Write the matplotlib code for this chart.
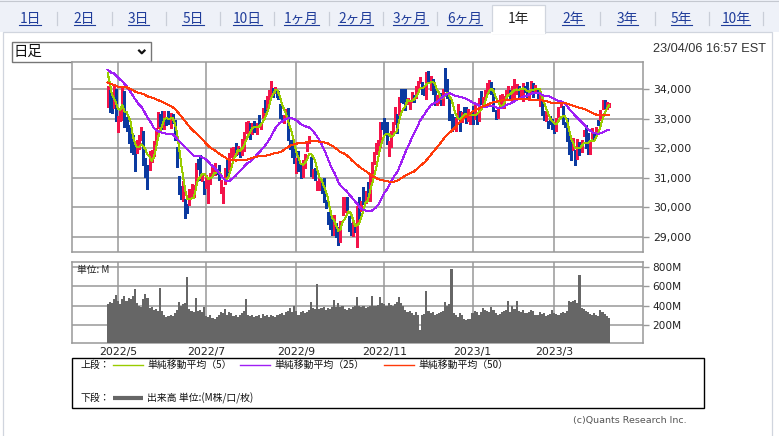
import numpy as np
import pandas as pd
import matplotlib
matplotlib.use('Agg')
import matplotlib.pyplot as plt
from matplotlib.patches import Rectangle
from matplotlib.lines import Line2D

# ---------------- data ----------------
start_date = '2022-04-25'
end_date = '2023-04-06'
market_holidays = ['2022-05-30', '2022-06-20', '2022-07-04', '2022-09-05', '2022-11-24',
                   '2022-12-26', '2023-01-02', '2023-01-16', '2023-02-20']

# closes before the window (for the moving averages)
prior_closes = [35242, 34738, 34566, 34989, 34935, 34312, 34079, 33597, 33132, 33224, 34059, 33893,
                33295, 33891, 33795, 33615, 32818, 32633, 33286, 33174, 32945, 32818, 33545, 34063,
                34481, 34755, 34553, 34808, 34358, 34708, 34862, 34956, 35294, 35229, 34678,
                34818, 34922, 34641, 34497, 34584, 34721, 34308, 34221, 34565, 34451, 34412,
                34911, 35161, 34793, 33811]

opens = [
    33706, 33948, 33329, 33462, 33897,
    32935, 33060, 33144, 33944, 32950, 32723, 32491, 32196, 31783, 31840, 32137, 32504, 32586, 31383, 31431, 31374, 31766, 31878, 32123, 32722, 33103,
    33111, 32811, 33004, 33142, 32733, 33075, 32789, 31971, 30990, 30569, 30447, 30295, 29958, 30080, 30344, 30580, 30748, 31533, 31526, 30972, 30830,
    30761, 30927, 30970, 31114, 31302, 31205, 31183, 30600, 30474, 30804, 31436, 31221, 31820, 31778, 32001, 31950, 31976, 31823, 32237, 32605,
    32750, 32693, 32469, 32839, 32561, 32891, 32767, 33138, 33439, 33399, 33675, 33826, 34038, 33925, 33939, 33500, 33073, 32887, 33031, 33295, 32140, 32199, 31899,
    31405, 31757, 31354, 31131, 31441, 31896, 32192, 31660, 31132, 31114, 30700, 30663, 30787, 30727, 30150, 29838, 29530, 29413, 29133, 29471, 29158,
    28855, 29733, 30116, 30221, 29717, 29390, 29225, 29273, 28881, 30172, 29898, 30643, 30303, 30413, 30300, 31158, 31512, 31818, 31893, 32097, 32779,
    32925, 32659, 31982, 32215, 32474, 32873, 33105, 33221, 33797, 33700, 33811, 33501, 33393, 33709, 33710, 33724, 34067, 34209, 34225, 33867, 33859,
    34592, 34113, 34327, 33965, 33555, 33674, 33739, 33489, 34589, 34076, 33654, 33133, 32918, 32681, 32976, 33216, 32962, 33275, 33266, 33014, 33121,
    33207, 33206, 33185, 33025, 33705, 33480, 33773, 34033, 34136, 34230, 33991, 33236, 33083, 33440, 33551, 33461, 33814, 33922, 33906, 33710,
    34065, 34042, 33981, 33847, 33793, 34096, 34105, 33728, 33933, 34159, 33970, 33968, 33646, 33661, 33159, 33120, 32923, 32945, 32871,
    32697, 32608, 33057, 33430, 33413, 32860, 32818, 32277, 31855, 31995, 31956, 31883, 32205, 31891, 32417, 32560, 32116, 31966, 32353, 32396, 32590, 32876, 32973,
    33310, 33604, 33403, 33399,
]
highs = [
    34094, 33981, 33686, 34114, 33989,
    33088, 33276, 34118, 33944, 33053, 32787, 32646, 32461, 32032, 32288, 32450, 32701, 32586, 31680, 31433, 31906, 31954, 32233, 32700, 33221, 33146,
    33251, 33260, 33045, 33268, 33191, 33172, 32958, 32025, 31053, 30712, 30891, 30296, 30128, 30617, 30805, 30760, 31501, 31628, 31779, 31159, 30893,
    31097, 30990, 31175, 31407, 31497, 31280, 31444, 30915, 30687, 31323, 31658, 31835, 32001, 32037, 32171, 32080, 32010, 32304, 32539, 32899,
    32917, 32868, 32860, 32904, 32849, 33132, 32847, 33366, 33643, 33767, 33967, 34282, 34050, 34061, 33939, 33500, 33121, 33109, 33311, 33368, 32281, 32283, 32060,
    31664, 31918, 31488, 31605, 31807, 32175, 32427, 31704, 31296, 31322, 30891, 31028, 30858, 31006, 30240, 29838, 29708, 29630, 29746, 29471, 29343,
    29530, 30338, 30354, 30349, 29718, 29477, 29500, 29386, 30057, 30341, 30213, 30699, 30564, 30852, 31120, 31527, 31877, 32164, 32293, 32899, 32895,
    33020, 32889, 32228, 32586, 32887, 33394, 33172, 33737, 33987, 33989, 33989, 33689, 33622, 33903, 33788, 34105, 34273, 34400, 34250, 34021, 34590,
    34595, 34449, 34337, 34097, 33787, 33817, 33883, 34012, 34712, 34351, 33654, 33168, 33048, 33032, 33484, 33259, 33220, 33379, 33388, 33314, 33152,
    33427, 33509, 33185, 33689, 33933, 33717, 33974, 34211, 34303, 34242, 34020, 33283, 33384, 33801, 33838, 33778, 33964, 34106, 33972, 34087,
    34334, 34157, 34114, 33970, 34215, 34098, 34252, 33943, 34271, 34210, 34143, 34034, 33837, 33662, 33272, 33252, 32930, 33091, 32992,
    32863, 33021, 33404, 33572, 33428, 32894, 33031, 32477, 32238, 32358, 31956, 32301, 32225, 32275, 32626, 32770, 32501, 32239, 32690, 32480, 32727, 32945, 33281,
    33632, 33621, 33547, 33529,
]
lows = [
    33396, 33230, 33204, 33362, 32913,
    32538, 32927, 32960, 32712, 32574, 32178, 31878, 31792, 31228, 31840, 31959, 32290, 31435, 31034, 30636, 31265, 31533, 31742, 32105, 32677, 32736,
    32649, 32635, 32789, 32830, 32689, 32857, 32270, 31378, 30450, 30281, 30227, 29653, 29804, 30080, 30309, 30351, 30748, 31304, 30924, 30891, 30450,
    30639, 30143, 30797, 31096, 31102, 31133, 30915, 30485, 30143, 30804, 31047, 31221, 31703, 31610, 31763, 31809, 31703, 31778, 31889, 32517,
    32501, 32311, 32469, 32564, 32475, 32725, 32639, 33024, 33231, 33316, 33608, 33810, 33734, 33851, 33664, 33014, 32890, 32861, 32992, 32274, 31989, 31703, 31484,
    31153, 31241, 30983, 31031, 31326, 31896, 32186, 31068, 30994, 30912, 30583, 30589, 30499, 30183, 29985, 29439, 29255, 29067, 29068, 28995, 28716,
    28815, 29733, 29851, 29895, 29202, 29062, 29040, 29162, 28661, 29609, 29890, 30115, 30158, 30273, 30206, 30977, 31471, 31791, 31893, 32040, 32637,
    32485, 32128, 31727, 32042, 32448, 32825, 32512, 33114, 33564, 33516, 33292, 33479, 33330, 33563, 33558, 33712, 33984, 34201, 33829, 33810, 33665,
    34189, 33977, 33826, 33477, 33445, 33539, 33468, 33459, 33945, 33682, 32964, 32573, 32690, 32581, 32976, 32573, 32870, 33096, 32869, 32936, 32819,
    32818, 32998, 32812, 32913, 33483, 33449, 33773, 33846, 33870, 33837, 33264, 32984, 33029, 33374, 33475, 33362, 33670, 33802, 33706, 33708,
    33582, 33827, 33725, 33735, 33589, 33895, 33651, 33617, 33906, 33741, 33883, 33659, 33428, 33120, 32944, 32912, 32697, 32810, 32654,
    32500, 32587, 33051, 33395, 32824, 32719, 32233, 31805, 31600, 31932, 31429, 31633, 31778, 31865, 32406, 32020, 31805, 31806, 32353, 32286, 32590, 32775, 32946,
    33310, 33347, 33327, 33378,
]
closes = [
    34049, 33240, 33301, 34051, 32977,
    33061, 33128, 34061, 32998, 32899, 32246, 32161, 31834, 31730, 32197, 32223, 32655, 31490, 31253, 31262, 31880, 31929, 32120, 32637, 33213, 32990,
    32813, 33248, 32900, 32916, 33180, 32910, 32273, 31393, 30517, 30365, 30668, 29927, 29889, 30530, 30484, 30677, 31501, 31439, 30947, 31029, 30775,
    31097, 30968, 31037, 31385, 31338, 31174, 30982, 30773, 30630, 31288, 31073, 31827, 31875, 32037, 31899, 31990, 31762, 32198, 32530, 32845,
    32798, 32397, 32813, 32727, 32803, 32833, 32775, 33310, 33337, 33761, 33913, 34152, 33981, 33999, 33707, 33064, 32910, 32970, 33292, 32283, 32099, 31791, 31510,
    31656, 31318, 31146, 31581, 31775, 32152, 32381, 31105, 31135, 30962, 30822, 31020, 30706, 30184, 30077, 29590, 29261, 29135, 29684, 29226, 28726,
    29491, 30317, 30274, 29927, 29297, 29203, 29240, 29211, 30039, 29635, 30186, 30524, 30424, 30334, 31083, 31500, 31837, 31839, 32034, 32862, 32733,
    32653, 32148, 32001, 32403, 32827, 33161, 32514, 33716, 33748, 33537, 33593, 33554, 33546, 33746, 33700, 34098, 34194, 34347, 33850, 33853, 34590,
    34395, 34430, 33948, 33597, 33598, 33781, 33477, 34005, 34109, 33966, 33203, 32920, 32757, 32850, 33377, 33027, 33204, 33242, 32876, 33221, 33147,
    33136, 33270, 32930, 33631, 33518, 33704, 33974, 34190, 34303, 33910, 33297, 33045, 33375, 33630, 33734, 33744, 33949, 33978, 33717, 34086,
    34093, 34054, 33926, 33891, 34156, 33950, 33699, 33869, 34246, 34089, 34128, 33697, 33827, 33130, 33046, 33154, 32817, 32889, 32657,
    32662, 33004, 33391, 33432, 32856, 32798, 32255, 31910, 31820, 32155, 31875, 32247, 31862, 32245, 32560, 32030, 32106, 32238, 32432, 32394, 32717, 32860, 33274,
    33601, 33403, 33482, 33485,
]
# volume, millions
volumes = [
    420, 440, 430, 470, 510, 450, 420, 470, 500, 450,
    480, 470, 500, 570, 430, 390, 380, 470, 520, 480,
    370, 380, 350, 360, 340, 580, 340, 300, 280, 290,
    300, 290, 320, 350, 440, 390, 420, 430, 700, 360,
    340, 330, 480, 340, 350, 330, 380, 290, 280, 300,
    270, 260, 280, 300, 330, 320, 360, 300, 330, 320,
    290, 300, 280, 300, 320, 340, 470, 300, 290, 300,
    280, 290, 300, 270, 310, 290, 300, 280, 300, 290,
    280, 300, 310, 320, 300, 330, 340, 370, 330, 400,
    340, 300, 330, 340, 320, 330, 350, 440, 370, 360,
    623, 360, 370, 380, 350, 370, 360, 380, 460, 380,
    430, 380, 390, 360, 350, 370, 360, 380, 390, 490,
    400, 380, 390, 370, 380, 390, 500, 400, 390, 410,
    490, 430, 420, 400, 430, 410, 390, 420, 440, 490,
    430, 400, 350, 330, 340, 320, 300, 330, 300, 140,
    300, 310, 550, 340, 320, 330, 300, 310, 320, 330,
    340, 440, 400, 420, 781, 320, 300, 280, 320, 300,
    260, 250, 260, 260, 320, 340, 330, 300, 330, 370,
    350, 340, 330, 380, 350, 320, 300, 310, 330, 340,
    350, 450, 330, 400, 360, 450, 340, 330, 350, 320,
    320, 330, 350, 340, 300, 300, 330, 310, 320, 290,
    300, 310, 350, 320, 310, 300, 320, 330, 320, 340,
    450, 440, 450, 460, 430, 721, 370, 360, 340, 330,
    310, 300, 320, 300, 290, 350, 330, 310, 290, 270,
]
ma_windows = [5, 25, 50]
ma_colors = ['#99CC00', '#9F1EF5', '#FF3A0A']
month_labels = ['2022/5', '2022/7', '2022/9', '2022/11', '2023/1', '2023/3']
price_ticks = [29000, 30000, 31000, 32000, 33000, 34000]
volume_ticks = [200, 400, 600, 800]
tab_labels = ['1日', '2日', '3日', '5日', '10日', '1ヶ月', '2ヶ月', '3ヶ月', '6ヶ月',
              '1年', '2年', '3年', '5年', '10年']
selected_tab = '1年'
legend_labels = ['単純移動平均（5）', '単純移動平均（25）', '単純移動平均（50）']
volume_legend = '出来高 単位:(M株/口/枚)'
timestamp = '23/04/06 16:57 EST'
credit = '(c)Quants Research Inc.'

# ---------------- derived ----------------
dates = pd.bdate_range(start_date, end_date, freq='C', holidays=market_holidays)
n = len(closes)
dates = dates[:n]
xi = np.arange(n)
o = np.array(opens, float); h = np.array(highs, float)
l = np.array(lows, float); c = np.array(closes, float)
full = pd.Series(list(prior_closes) + list(closes), dtype=float)
mas = [full.rolling(w).mean().values[len(prior_closes):] for w in ma_windows]

month_pos = []
for lab in month_labels:
    yy, mm = lab.split('/')
    idx = np.where((dates.year == int(yy)) & (dates.month == int(mm)))[0][0]
    month_pos.append(idx)

# ---------------- figure ----------------
W, H = 779, 436
fig = plt.figure(figsize=(W / 100, H / 100), dpi=100)
fig.patch.set_facecolor('white')
CJK = ['Noto Sans CJK JP', 'DejaVu Sans']


def fx(x):
    return x / W


def fy(y):
    return 1 - y / H


def frect(x0, y0, x1, y1, **kw):
    r = Rectangle((fx(x0), fy(y1)), fx(x1) - fx(x0), fy(y0) - fy(y1),
                  transform=fig.transFigure, **kw)
    fig.add_artist(r)
    return r


def fline(xs, ys, **kw):
    ln = Line2D([fx(v) for v in xs], [fy(v) for v in ys], transform=fig.transFigure, **kw)
    fig.add_artist(ln)
    return ln


# tab strip
frect(0, 0, W, 32.5, facecolor='#EEF1F8', edgecolor='none', zorder=0)
fline([0, W], [0.8, 0.8], color='#C4C8D0', lw=0.8)
# content panel
frect(2.8, 32.3, 772, 440, facecolor='white', edgecolor='#D0D5DE', lw=0.9, zorder=1)
# selected tab
sel_i = tab_labels.index(selected_tab)
tab_cx = [30 + 54.3 * i for i in range(len(tab_labels))]
frect(491.5, 4.8, 545, 33.2, facecolor='white', edgecolor='#D0D5DE', lw=0.9, zorder=2)
fline([492.2, 544.3], [32.8, 32.8], color='white', lw=1.6, zorder=3)

tab_texts = []
for i, lab in enumerate(tab_labels):
    if i == sel_i:
        fig.text(fx(tab_cx[i]), fy(18.5), lab, ha='center', va='center', fontsize=9.9,
                 family=CJK, color='#222222', zorder=4)
    else:
        t = fig.text(fx(tab_cx[i]), fy(18.5), lab, ha='center', va='center', fontsize=9.9,
                     family=CJK, color='#1F3C9A', zorder=4)
        tab_texts.append(t)
for i in range(len(tab_labels)):
    if i in (sel_i - 1, sel_i):
        continue
    sx = tab_cx[i] + 27.2
    fline([sx, sx], [12, 25.5], color='#C9CED8', lw=0.9)

fig.canvas.draw()
rend = fig.canvas.get_renderer()
for t in tab_texts:
    bb = t.get_window_extent(renderer=rend)
    fline([bb.x0, bb.x1], [24.6, 24.6], color='#1F3C9A', lw=0.8)

# dropdown
frect(11.7, 42.3, 150.7, 61.7, facecolor='white', edgecolor='#767676', lw=1.0, zorder=2)
fig.text(fx(13.5), fy(52.3), '日足', ha='left', va='center', fontsize=10.4, family=CJK,
         color='#111111', zorder=3)
fline([138.3, 141.8, 145.3], [49.8, 53.3, 49.8], color='#111111', lw=1.6,
      solid_capstyle='butt', zorder=3)
fig.text(fx(766), fy(48.5), timestamp, ha='right', va='center', fontsize=9.2,
         family=['Liberation Sans', 'DejaVu Sans'], color='#333333')

# ---------------- price axes ----------------
XL = (-17.0, 255.3)
grid_c = '#999999'
ax = fig.add_axes([fx(72), fy(252), fx(643) - fx(72), fy(62) - fy(252)])
ax.set_zorder(5)
ax.set_xlim(*XL)
ax.set_ylim(28490, 34915)
ax.set_axisbelow(True)
for s in ax.spines.values():
    s.set_color(grid_c); s.set_linewidth(1.1)
ax.set_xticks(month_pos)
ax.set_xticklabels([])
ax.tick_params(axis='x', length=0)
ax.yaxis.tick_right()
ax.set_yticks(price_ticks)
ax.set_yticklabels([f'{v:,}' for v in price_ticks])
ax.tick_params(axis='y', direction='out', length=4.5, width=1.0, color=grid_c, pad=2.5,
               labelsize=7.8, labelcolor='#222222')
ax.grid(True, color=grid_c, lw=1.1)

up = c >= o
cols = np.where(up, '#F3144A', '#0B3AA0')
ax.vlines(xi, l, h, colors=cols, lw=0.75, zorder=3, antialiased=False)
body_lo = np.minimum(o, c)
body_h = np.maximum(np.abs(c - o), 14)
ax.bar(xi, body_h, bottom=body_lo, width=0.96, color=cols, edgecolor='none', zorder=3,
       antialiased=False)
for ma, col in zip(mas, ma_colors):
    ax.plot(xi, ma, color=col, lw=0.72, zorder=4, antialiased=False)

# ---------------- volume axes ----------------
axv = fig.add_axes([fx(72), fy(343), fx(643) - fx(72), fy(262) - fy(343)])
axv.set_zorder(5)
axv.set_xlim(*XL)
axv.set_ylim(8, 855)
axv.set_axisbelow(True)
for s in axv.spines.values():
    s.set_color(grid_c); s.set_linewidth(1.1)
axv.bar(xi, volumes, width=1.0, color='#666666', edgecolor='none', zorder=3,
        antialiased=False)
axv.set_xticks(month_pos)
axv.set_xticklabels(month_labels)
axv.tick_params(axis='x', length=0, pad=3, labelsize=7.8, labelcolor='#222222')
axv.yaxis.tick_right()
axv.set_yticks(volume_ticks)
axv.set_yticklabels([f'{v}M' for v in volume_ticks])
axv.tick_params(axis='y', direction='out', length=4.5, width=1.0, color=grid_c, pad=2.5,
                labelsize=7.6, labelcolor='#222222')
axv.grid(True, color=grid_c, lw=1.1)
axv.text(fx(77), fy(270), '単位: M', transform=fig.transFigure, ha='left', va='center',
         fontsize=7.0, family=CJK, color='#222222', zorder=6)

# ---------------- legend box ----------------
frect(72.3, 357.5, 704, 407.7, facecolor='white', edgecolor='black', lw=1.0, zorder=2)
r1, r2 = 365.3, 398.3
fs_leg = 7.1
fig.text(fx(80.5), fy(r1), '上段：', ha='left', va='center', fontsize=fs_leg, family=CJK, color='#111111')
fig.text(fx(80.5), fy(r2), '下段：', ha='left', va='center', fontsize=fs_leg, family=CJK, color='#111111')
leg_x = [112.7, 240.0, 384.3]
for lx, col, lab in zip(leg_x, ma_colors, legend_labels):
    fline([lx, lx + 30], [r1, r1], color=col, lw=1.0)
    fig.text(fx(lx + 34.5), fy(r1), lab, ha='left', va='center', fontsize=fs_leg, family=CJK,
             color='#111111')
fline([112.7, 142.7], [r2, r2], color='#666666', lw=3.0, solid_capstyle='butt')
fig.text(fx(147.2), fy(r2), volume_legend, ha='left', va='center', fontsize=fs_leg, family=CJK,
         color='#111111')

fig.text(fx(687), fy(420.5), credit, ha='right', va='center', fontsize=6.8,
         family='DejaVu Sans', color='#555555')

fig.savefig('out.png', dpi=100)
